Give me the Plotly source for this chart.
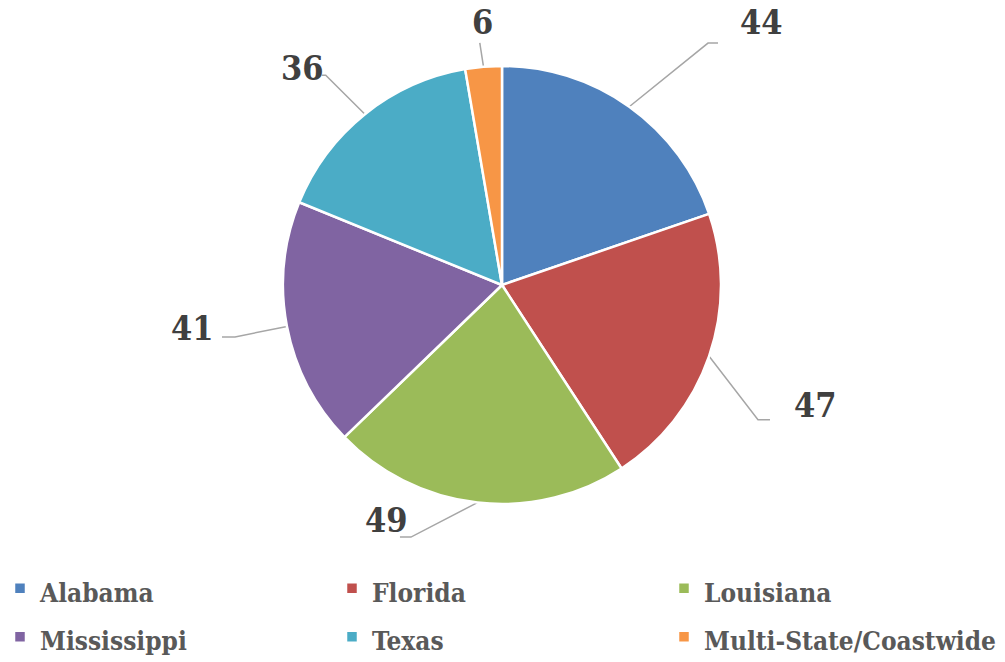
import math
import plotly.graph_objects as go

# ---- data ----
states = ["Alabama", "Florida", "Louisiana", "Mississippi", "Texas", "Multi-State/Coastwide"]
counts = [44, 47, 49, 41, 36, 6]

# ---- style ----
colors = ["#4F81BD", "#C0504D", "#9BBB59", "#8064A2", "#4BACC6", "#F79646"]
W, H = 1005, 662
CX, CY, R = 502, 285, 219
FONT = "DejaVu Serif Condensed, DejaVu Serif, serif"

# leader-line / label placement style per slice (Excel-like best fit)
elbow_k = [1.451, 1.321, 1.224, 1.242, 1.251, 1.110]
angle_nudge = [4.9, 8.8, 13.4, -0.1, -1.3, -0.4]
tick_len = [10, 12, 11, 13, 4, 0]
text_gap = [20, 22, -10, 6, -4, 3]
text_dy = [-21, -15, -17, -9, -7, -21]

fig = go.Figure()

legend_labels = ['<span style="font-size:26px">%s</span>' % s for s in states]

fig.add_trace(go.Pie(
    labels=legend_labels, values=counts, sort=False, direction="clockwise", rotation=0,
    marker=dict(colors=colors, line=dict(color="white", width=2.5)),
    textinfo="none", hoverinfo="label+value",
    domain=dict(x=[(CX - R) / W, (CX + R) / W], y=[1 - (CY + R) / H, 1 - (CY - R) / H]),
))

total = sum(counts)
cum = 0
annotations = []
for i, v in enumerate(counts):
    mid = (cum + v / 2) / total * 360.0
    cum += v
    a = math.radians(mid)
    x0, y0 = CX + R * math.sin(a), CY - R * math.cos(a)
    b = math.radians(mid + angle_nudge[i])
    ex, ey = CX + elbow_k[i] * R * math.sin(b), CY - elbow_k[i] * R * math.cos(b)
    s = math.sin(b)
    side = 1 if s > 0.15 else (-1 if s < -0.15 else 0)
    tx = ex + side * tick_len[i]
    fig.add_trace(go.Scatter(
        x=[x0, ex, tx], y=[y0, ey, ey], mode="lines",
        line=dict(color="#A6A6A6", width=1.5), hoverinfo="skip", showlegend=False,
    ))
    if side == 1:
        lx, anchor = tx + text_gap[i], "left"
    elif side == -1:
        lx, anchor = tx - text_gap[i], "right"
    else:
        lx, anchor = tx + text_gap[i], "center"
    annotations.append(dict(
        x=lx, y=ey + text_dy[i], xref="x", yref="y", text=str(v), showarrow=False,
        xanchor=anchor, yanchor="middle",
        font=dict(family=FONT, size=34, color="#404040", weight="bold"),
    ))

fig.update_layout(
    width=W, height=H, margin=dict(l=0, r=0, t=0, b=0, autoexpand=False),
    paper_bgcolor="white", plot_bgcolor="rgba(0,0,0,0)",
    xaxis=dict(range=[0, W], visible=False, fixedrange=True, domain=[0, 1]),
    yaxis=dict(range=[H, 0], visible=False, fixedrange=True, domain=[0, 1]),
    annotations=annotations,
    showlegend=True,
    legend=dict(
        orientation="h", x=0, y=1 - 559 / H, xanchor="left", yanchor="top",
        entrywidth=287, entrywidthmode="pixels", traceorder="normal",
        font=dict(family=FONT, size=35, color="#595959", weight="bold"),
    ),
)

fig.write_html("out.html", config={"displayModeBar": False},
               post_script="document.body.style.margin='0';")
